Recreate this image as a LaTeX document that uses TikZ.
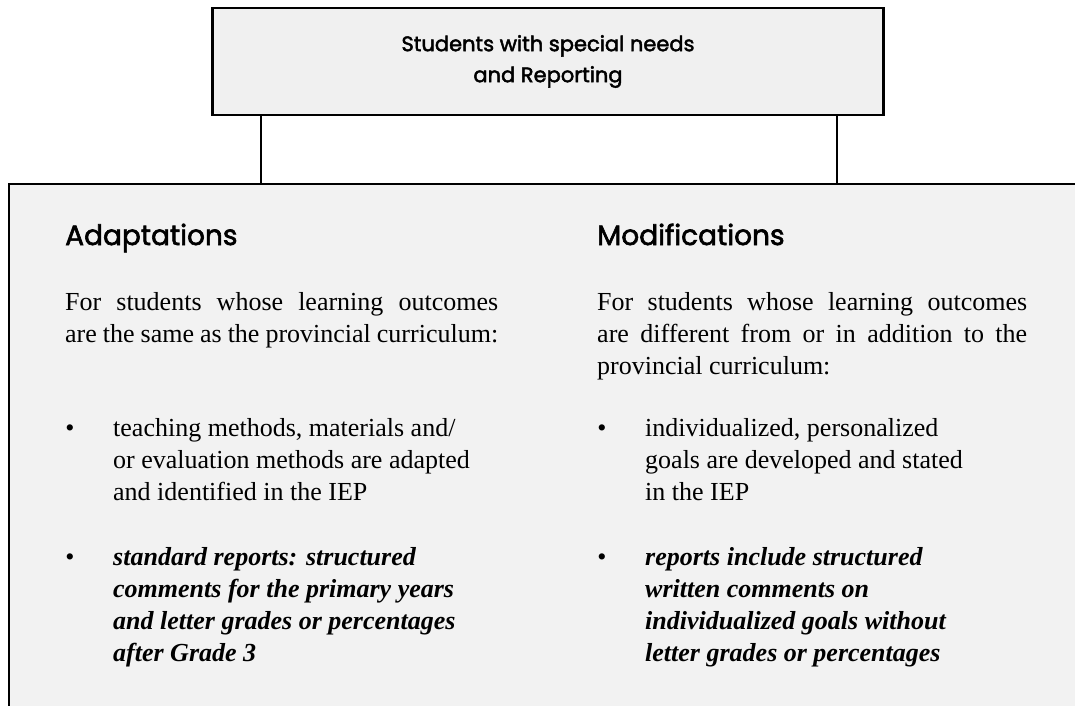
\documentclass[tikz,border=0pt]{standalone}
\usepackage{fontspec}
\setmainfont{Liberation Serif}
\newfontfamily\gothic[FakeBold=2.2]{Poppins}
\usepackage{tikz}
\usetikzlibrary{positioning}
\definecolor{boxgray}{HTML}{F0F0F0}
\definecolor{panelgray}{HTML}{F2F2F2}
\tikzset{titlebox/.style={rectangle,draw,line width=2.2pt,fill=boxgray,align=center,
           font=\gothic\fontsize{21}{31}\selectfont}}
\tikzset{panelbox/.style={rectangle,draw,line width=2.2pt,fill=panelgray,inner sep=0pt}}
\tikzset{link/.style={line width=2pt}}
\tikzset{head/.style={anchor=base west,inner sep=0pt,font=\gothic\fontsize{28}{32}\selectfont}}
\tikzset{body/.style={anchor=base west,align=left,inner sep=0pt,font=\fontsize{26}{32}\selectfont}}
\tikzset{intro/.style={body,align=justify}}
\tikzset{note/.style={body,font=\bfseries\itshape\fontsize{26}{32}\selectfont}}
\tikzset{dot/.style={anchor=base,inner sep=0pt,font=\fontsize{26}{32}\selectfont}}

\begin{document}
\begin{tikzpicture}[x=1pt,y=-1pt]
  \useasboundingbox (0,0) rectangle (1075,705);
  \clip (0,0) rectangle (1075,705);

  \def\lx{65};
  \def\rx{597};
  \def\ind{48};

  \node[panelbox, anchor=north west, minimum width=1200pt, minimum height=600pt] (panel) at (8,183) {};
  \node[titlebox, minimum width=671pt, minimum height=107pt] (title) at (548,61.5)
       {Students with special needs\\and Reporting};

  \coordinate (lfoot) at ([xshift=-287pt]title.south);
  \coordinate (rfoot) at ([xshift=289pt]title.south);
  \draw[link] (lfoot) -- (lfoot |- panel.north);
  \draw[link] (rfoot) -- (rfoot |- panel.north);

  \foreach \x/\txt/\name in {\lx/Adaptations/adapt, \rx/Modifications/modif}{
    \node[head] (\name) at (\x,245) {\txt};
  }

  % intro paragraphs (first baseline), bullet texts (last baseline)
  \node[intro, text width=433pt] (adaptintro) at (\lx,310)
       {For students whose learning outcomes\linebreak are the same as the provincial curriculum:};
  \node[intro, text width=430pt] (modifintro) at (\rx,310)
       {For students whose learning outcomes\linebreak are different from or in addition to the\linebreak provincial curriculum:};

  \foreach \x/\y/\name in {\lx/436/dl1, \lx/565/dl2, \rx/436/dr1, \rx/565/dr2}{
    \node[dot] (\name) at (\x+5,\y) {•};
  }

  \node[body] (adaptone) at (\lx+\ind,500)
       {teaching methods, materials and/\\or evaluation methods are adapted\\and identified in the IEP};
  \node[note] (adapttwo) at (\lx+\ind,661)
       {standard reports: structured\\comments for the primary years\\and letter grades or percentages\\after Grade 3};
  \node[body] (modifone) at (\rx+\ind,500)
       {individualized, personalized\\goals are developed and stated\\in the IEP};
  \node[note] (modiftwo) at (\rx+\ind,661)
       {reports include structured\\written comments on\\individualized goals without\\letter grades or percentages};
\end{tikzpicture}
\end{document}
